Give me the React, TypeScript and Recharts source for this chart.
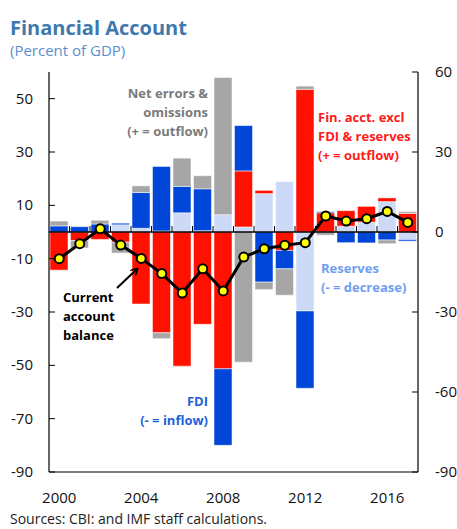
import { Bar, ComposedChart, Line, ReferenceLine, XAxis, YAxis } from "recharts";

const years = [
  "2000", "2001", "2002", "2003", "2004", "2005", "2006", "2007", "2008",
  "2009", "2010", "2011", "2012", "2013", "2014", "2015", "2016", "2017"
];
const reserves = [0, 0, 0, 2.7, 1.4, 0.4, 7.2, 0.5, 6.5, 1.9, 14.4, 18.9, -29.6, 0, 2.2, 3.7, 11.4, -2.8];
const finExcl = [-14.3, -3.2, -2.8, -3.8, -27, -37.8, -50.3, -34.6, -51.3, 21, 1.2, -6.9, 53.5, 7.2, 5.8, 5.9, 1.4, 7.0];
const fdi = [2.3, 2.0, 3.0, 0.6, 13.4, 24.2, 9.9, 15.7, -28.7, 17, -18.8, -6.9, -29, 0.4, -4.0, -4.1, -3.0, -0.6];
const errors = [1.8, -2.8, 1.4, -4.1, 2.5, -2.2, 10.6, 4.9, 51.4, -48.8, -2.8, -9.9, 1.2, -1.2, 0, 0, -1.4, 0.6];
const currentAccount = [-10, -4.4, 1.2, -4.9, -9.9, -15.6, -22.9, -13.8, -22.1, -9.4, -6.3, -5.0, -4.0, 6.0, 4.1, 5.0, 7.7, 3.6];

const leftTicks = [50, 30, 10, -10, -30, -50, -70, -90];
const rightTicks = [60, 30, 0, -30, -60, -90];

const data = years.map((year, i) => ({
  year,
  reserves: reserves[i],
  finExcl: finExcl[i],
  fdi: fdi[i],
  errors: errors[i],
  ca: currentAccount[i]
}));

const FONT = "'Open Sans', sans-serif";
const W = 457;
const H = 529;
const PLOT = { left: 49, right: 418, top: 72, bottom: 472 };
const band = (PLOT.right - PLOT.left) / years.length;
const zeroY = PLOT.top + (60 / 150) * (PLOT.bottom - PLOT.top);

const LeftTick = ({ y, payload }: any) => (
  <g>
    <line x1={PLOT.left} x2={PLOT.left + 6} y1={y} y2={y} stroke="#000" />
    <text x={33} y={y} dy={5} textAnchor="end" fontSize={15} fill="#111" fontFamily={FONT}>
      {payload.value}
    </text>
  </g>
);

const RightTick = ({ y, payload }: any) => (
  <g>
    <line x1={PLOT.right - 6} x2={PLOT.right} y1={y} y2={y} stroke="#000" />
    <text x={435} y={y} dy={5} textAnchor="start" fontSize={15} fill="#111" fontFamily={FONT}>
      {payload.value}
    </text>
  </g>
);

const YearTick = ({ x, payload, index }: any) => {
  const yr = Number(payload.value);
  return (
    <g>
      {index > 0 && (
        <line x1={x - band / 2} x2={x - band / 2} y1={zeroY - 6} y2={zeroY} stroke="#000" />
      )}
      {yr % 4 === 0 && (
        <text x={x} y={503} textAnchor="middle" fontSize={15} fill="#111" fontFamily={FONT}>
          {payload.value}
        </text>
      )}
    </g>
  );
};

const Note = ({ x, y, lines, color, anchor = "start" }: any) => (
  <text x={x} y={y} fontSize={13} fontWeight="bold" fill={color} textAnchor={anchor} fontFamily={FONT}>
    {lines.map((l: string, i: number) => (
      <tspan key={i} x={x} dy={i === 0 ? 0 : 19}>
        {l}
      </tspan>
    ))}
  </text>
);

export default function App() {
  return (
    <div style={{ position: "absolute", left: 0, top: 0, width: W, height: H, overflow: "hidden", background: "#fff" }}>
      <ComposedChart
        width={W}
        height={H}
        data={data}
        stackOffset="sign"
        margin={{ top: 72, right: 0, bottom: 27, left: 0 }}
      >
        <XAxis
          dataKey="year"
          interval={0}
          height={30}
          tickLine={false}
          axisLine={{ stroke: "#000", strokeWidth: 1.2 }}
          tick={<YearTick />}
        />
        <XAxis
          xAxisId="top"
          orientation="top"
          dataKey="year"
          height={0}
          tick={false}
          tickLine={false}
          axisLine={{ stroke: "#000", strokeWidth: 1.2 }}
        />
        <YAxis
          yAxisId="left"
          width={49}
          domain={[-90, 60]}
          ticks={leftTicks}
          interval={0}
          tickLine={false}
          axisLine={{ stroke: "#000", strokeWidth: 1.2 }}
          tick={<LeftTick />}
        />
        <YAxis
          yAxisId="right"
          orientation="right"
          width={39}
          domain={[-90, 60]}
          ticks={rightTicks}
          interval={0}
          tickLine={false}
          axisLine={{ stroke: "#000", strokeWidth: 1.2 }}
          tick={<RightTick />}
        />
        <Bar yAxisId="left" dataKey="reserves" stackId="a" barSize={18} fill="#ccdaf8" stroke="#fff" strokeWidth={0.5} isAnimationActive={false} />
        <Bar yAxisId="left" dataKey="finExcl" stackId="a" barSize={18} fill="#ff1100" stroke="#fff" strokeWidth={0.5} isAnimationActive={false} />
        <Bar yAxisId="left" dataKey="fdi" stackId="a" barSize={18} fill="#0047d9" stroke="#fff" strokeWidth={0.5} isAnimationActive={false} />
        <Bar yAxisId="left" dataKey="errors" stackId="a" barSize={18} fill="#a6a6a6" stroke="#fff" strokeWidth={0.5} isAnimationActive={false} />
        <ReferenceLine yAxisId="left" y={0} stroke="#000" strokeWidth={1.3} />
        {/* invisible copy so the right-hand axis has a series bound to it */}
        <Line
          yAxisId="right"
          dataKey="ca"
          stroke="none"
          dot={false}
          activeDot={false}
          legendType="none"
          isAnimationActive={false}
        />
        <Line
          yAxisId="left"
          type="linear"
          dataKey="ca"
          stroke="#000"
          strokeWidth={3}
          dot={{ r: 4.5, fill: "#ffff00", stroke: "#000", strokeWidth: 2 }}
          isAnimationActive={false}
        />
      </ComposedChart>
      <svg width={W} height={H} style={{ position: "absolute", left: 0, top: 0, pointerEvents: "none" }}>
        <defs>
          <marker id="arrow" markerWidth="8" markerHeight="8" refX="6" refY="4" orient="auto" markerUnits="userSpaceOnUse">
            <path d="M0,0 L7,4 L0,8" fill="none" stroke="#000" strokeWidth={1.6} />
          </marker>
        </defs>
        <text x={10} y={35} fontSize={20} fontWeight="bold" fill="#3f78ad" fontFamily={FONT}>
          Financial Account
        </text>
        <text x={10} y={56} fontSize={15} fill="#5b8fcf" fontFamily={FONT}>
          (Percent of GDP)
        </text>
        <Note x={208} y={98} lines={["Net errors &", "omissions", "(+ = outflow)"]} color="#7a7a7a" anchor="end" />
        <Note x={318} y={122} lines={["Fin. acct. excl", "FDI & reserves", "(+ = outflow)"]} color="#ff1a1a" />
        <Note x={321} y={273} lines={["Reserves", "(- = decrease)"]} color="#6f9ef2" />
        <Note x={208} y={406} lines={["FDI", "(- = inflow)"]} color="#1f5fdc" anchor="end" />
        <Note x={63} y={302} lines={["Current", "account", "balance"]} color="#000" />
        <line x1={117} y1={288} x2={137} y2={269} stroke="#000" strokeWidth={2} markerEnd="url(#arrow)" />
        <text x={10} y={524} fontSize={14} fill="#222" fontFamily={FONT}>
          Sources: CBI: and IMF staff calculations.
        </text>
      </svg>
    </div>
  );
}
